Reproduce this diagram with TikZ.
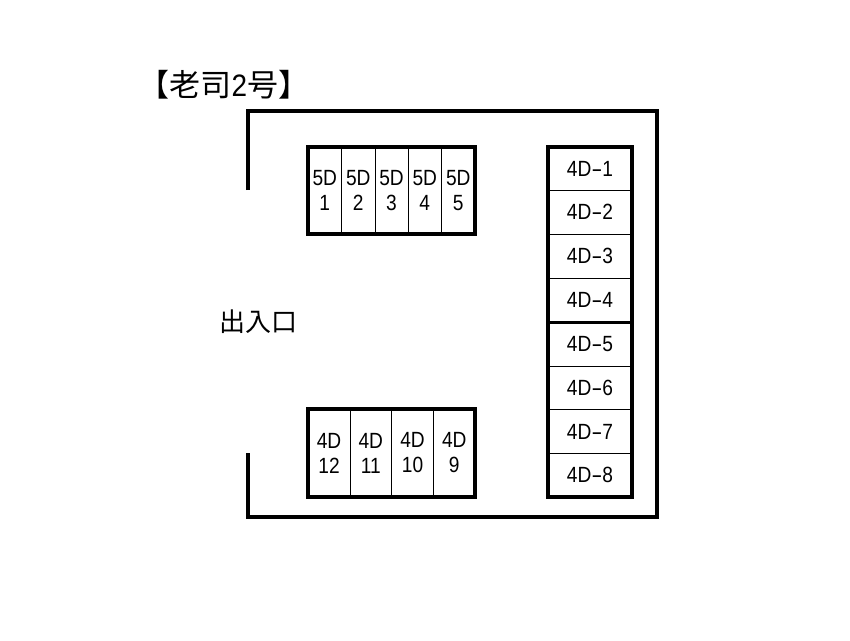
\documentclass[tikz,border=0pt]{standalone}
\usepackage{fontspec}
\usepackage{graphicx}
\setmainfont{Liberation Sans}[FakeStretch=0.87]
\newfontfamily\cjk{Noto Sans CJK JP}
\newfontfamily\halfdigit{Liberation Sans}[FakeStretch=0.90]
\newcommand{\widehy}{\scalebox{1.75}[1]{-}}
\usetikzlibrary{positioning}
\tikzset{
  stall/.style={draw=black,line width=0.9pt,rectangle,inner sep=0pt,outer sep=0pt,align=center,
    font=\fontsize{22}{25}\selectfont,anchor=north west},
  wall/.style={draw=black,line width=3.8pt,line cap=butt,line join=miter},
  block/.style={draw=black,line width=3.4pt,line join=miter},
  sep/.style={draw=black,line width=3pt},
  title/.style={inner sep=0pt,outer sep=0pt,font=\fontsize{31}{36}\selectfont\cjk},
  gate/.style={inner sep=0pt,outer sep=0pt,font=\fontsize{26}{30}\selectfont\cjk}
}
\begin{document}
\begin{tikzpicture}[x=1pt,y=-1pt]
\useasboundingbox (0,0) rectangle (850,640);
\fill[white] (0,0) rectangle (850,640);
% title and entrance
\node[title,anchor=west] (ttl) at (138.5,85) {【老司{\fontsize{31}{36}\halfdigit 2}号】};
\node[gate] (gate) at (258,322) {出入口};
% 5D row
\node[stall,minimum width=33.5pt,minimum height=87pt] (a1) at (308,147) {5D\\1};
\node[stall,minimum width=33.5pt,minimum height=87pt] (a2) at (341.5,147) {5D\\2};
\node[stall,minimum width=33pt,minimum height=87pt] (a3) at (375,147) {5D\\3};
\node[stall,minimum width=33.5pt,minimum height=87pt] (a4) at (408,147) {5D\\4};
\node[stall,minimum width=33.5pt,minimum height=87pt] (a5) at (441.5,147) {5D\\5};
\path[block] (a1.north west) rectangle (a5.south east);
% 4D column
\node[stall,minimum width=84pt,minimum height=43.5pt] (b1) at (548,147) {4D\widehy 1};
\node[stall,minimum width=84pt,minimum height=43.5pt] (b2) at (548,190.5) {4D\widehy 2};
\node[stall,minimum width=84pt,minimum height=44pt] (b3) at (548,234) {4D\widehy 3};
\node[stall,minimum width=84pt,minimum height=44pt] (b4) at (548,278) {4D\widehy 4};
\node[stall,minimum width=84pt,minimum height=44pt] (b5) at (548,322) {4D\widehy 5};
\node[stall,minimum width=84pt,minimum height=43.5pt] (b6) at (548,366) {4D\widehy 6};
\node[stall,minimum width=84pt,minimum height=44pt] (b7) at (548,409.5) {4D\widehy 7};
\node[stall,minimum width=84pt,minimum height=43.5pt] (b8) at (548,453.5) {4D\widehy 8};
\path[block] (b1.north west) rectangle (b8.south east);
\path[sep] (b4.south west) -- (b4.south east);
% 4D bottom row
\node[stall,minimum width=42pt,minimum height=88pt] (c1) at (308,409) {4D\\12};
\node[stall,minimum width=41.5pt,minimum height=88pt] (c2) at (350,409) {4D\\11};
\node[stall,minimum width=42pt,minimum height=88pt] (c3) at (391.5,409) {4D\\10};
\node[stall,minimum width=41.5pt,minimum height=88pt] (c4) at (433.5,409) {4D\\9};
\path[block] (c1.north west) rectangle (c4.south east);
% outer wall
\coordinate (w1) at (248,190);
\coordinate (w2) at (248,111);
\coordinate (w3) at (657,111);
\coordinate (w4) at (657,517);
\coordinate (w5) at (248,517);
\coordinate (w6) at (248,453);
\path[wall] (w1) -- (w2) -- (w3) -- (w4) -- (w5) -- (w6);
\end{tikzpicture}
\end{document}
